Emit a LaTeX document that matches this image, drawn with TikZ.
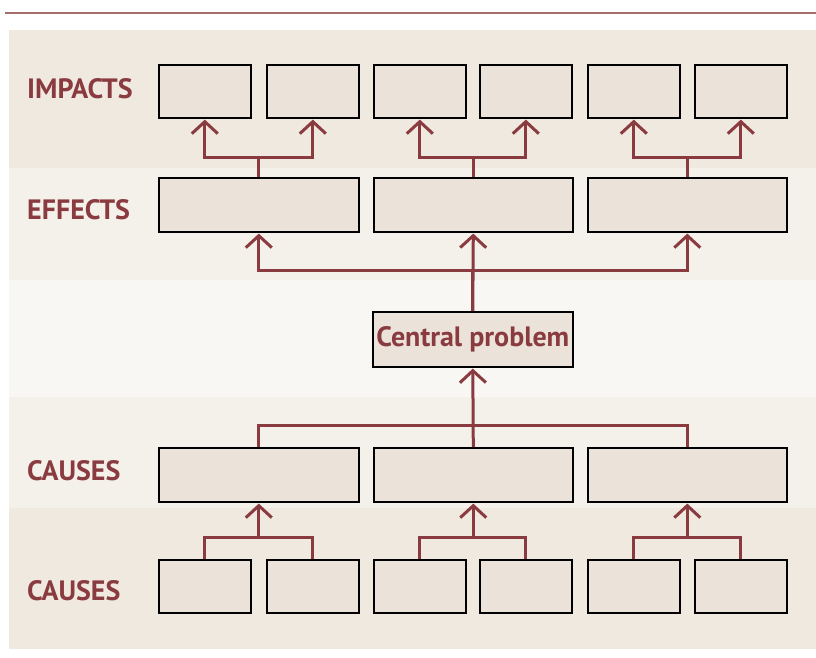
\documentclass[tikz,border=0pt]{standalone}
\usepackage{fontspec}
\setmainfont{PT Sans}
\usetikzlibrary{arrows.meta,calc}
\definecolor{rule}{HTML}{A46E6E}
\definecolor{wine}{HTML}{8A3B40}
\definecolor{bandA}{HTML}{F0E9E0}
\definecolor{bandB}{HTML}{F4F0EA}
\definecolor{bandC}{HTML}{F9F7F3}
\definecolor{boxfill}{HTML}{EBE3DA}
\tikzset{
  cell/.style={draw=black, line width=1.6pt, fill=boxfill, inner sep=0pt, anchor=north west},
  small/.style={cell, minimum width=92pt, minimum height=53pt},
  wide/.style={cell, minimum width=200pt, minimum height=54pt},
  labelfont/.style={font=\bfseries\fontsize{28}{30}\selectfont},
  rowlabel/.style={text=wine, labelfont, anchor=west, inner sep=0pt},
  link/.style={draw=wine, line width=3pt},
  up/.style={link, -{Straight Barb[length=12pt,width=26pt,line width=3pt]}, shorten >=1pt},
}
\begin{document}
\begin{tikzpicture}[x=1pt,y=-1pt]
\useasboundingbox (0,0) rectangle (816,657);
% page rule and background bands
\draw[rule, line width=2pt] (5,13) -- (816,13);
\fill[bandA] (9,30) rectangle (816,168);
\fill[bandB] (9,168) rectangle (816,280);
\fill[bandC] (9,280) rectangle (816,397);
\fill[bandB] (9,397) rectangle (816,508);
\fill[bandA] (9,508) rectangle (816,649);

% row labels
\node[rowlabel] (limp) at (27,89) {IMPACTS};
\node[rowlabel] (leff) at (27,210) {EFFECTS};
\node[rowlabel] (lca) at (27,471) {CAUSES};
\node[rowlabel] (lcb) at (27,591) {CAUSES};

% impacts
\node[small] (i1) at (158,64) {};
\node[small] (i2) at (266,64) {};
\node[small] (i3) at (373,64) {};
\node[small] (i4) at (479,64) {};
\node[small] (i5) at (587,64) {};
\node[small] (i6) at (694,64) {};
% effects
\node[wide] (e1) at (158,177) {};
\node[wide, minimum width=199pt] (e2) at (373,177) {};
\node[wide, minimum width=199pt] (e3) at (587,177) {};
% central problem
\node[cell, minimum width=200pt, minimum height=55pt, text=wine, labelfont] (cp) at (372,311) {Central problem};
% causes
\node[wide] (c1) at (158,447) {};
\node[wide, minimum width=199pt] (c2) at (373,447) {};
\node[wide, minimum width=199pt] (c3) at (587,447) {};
% root causes
\node[small] (r1) at (158,559) {};
\node[small] (r2) at (266,559) {};
\node[small] (r3) at (373,559) {};
\node[small] (r4) at (479,559) {};
\node[small] (r5) at (587,559) {};
\node[small] (r6) at (694,559) {};

% effects -> impacts
\foreach \e/\a/\b in {e1/i1/i2, e2/i3/i4, e3/i5/i6}{
  \draw[up] (\e.north) -- ++(0,-20) -| (\a.south);
  \draw[up] (\e.north) -- ++(0,-20) -| (\b.south);
}
% central problem -> effects
\draw[up] (cp.north) -- ++(0,-41) -| (e1.south);
\draw[up] (cp.north) -- ++(0,-41) -| (e3.south);
\draw[up] (cp.north) -- (e2.south);
% causes -> central problem
\draw[link] (c1.north) -- ++(0,-22) -| (c3.north);
\draw[up] (c2.north) -- (cp.south);
% root causes -> causes
\foreach \a/\b/\c in {r1/r2/c1, r3/r4/c2, r5/r6/c3}{
  \draw[link] (\a.north) -- ++(0,-22) coordinate (j\c) -| (\b.north);
  \draw[up] (j\c -| \c.south) -- (\c.south);
}
\end{tikzpicture}
\end{document}
